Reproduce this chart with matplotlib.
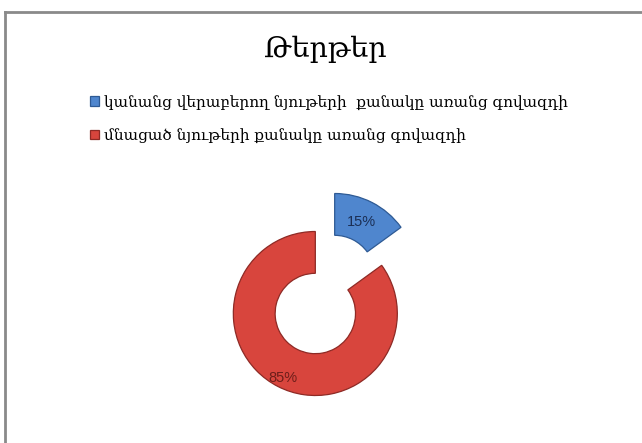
import matplotlib
matplotlib.use("Agg")
import matplotlib.pyplot as plt
from matplotlib.lines import Line2D
import numpy as np

# Data
title = "Թերթեր"
categories = [
    "կանանց վերաբերող նյութերի  քանակը առանց գովազդի",
    "մնացած նյութերի քանակը առանց գովազդի",
]
shares = [15, 85]

# Style
colors = ["#4F86CE", "#D8453D"]
edge_colors = ["#2E5A94", "#8E2A25"]
pct_colors = ["#1B2F55", "#6E1E1A"]
pct_dist = [0.73, 0.88]
serif = ["DejaVu Serif", "DejaVu Sans"]

W, H = 642, 443
fig = plt.figure(figsize=(W / 100, H / 100), dpi=100)
fig.patch.set_facecolor("white")

# Frame along top and left edges
fig.add_artist(Line2D([5 / W, 5 / W], [0, 1 - 12 / H], transform=fig.transFigure,
                      color="#8A8A8A", lw=2.0))
fig.add_artist(Line2D([5 / W, 1], [1 - 12 / H, 1 - 12 / H], transform=fig.transFigure,
                      color="#8A8A8A", lw=2.0))

# Donut axes: square, radius 1 == 82 px
R = 82.0
cx, cy = 325.0, 294.5
half = 1.5 * R
ax = fig.add_axes([(cx - half) / W, 1 - (cy + half) / H, 2 * half / W, 2 * half / H])

wedges, _ = ax.pie(
    shares,
    colors=colors,
    startangle=90,
    counterclock=False,
    explode=[0.26, 0.26],
    radius=1.0,
    wedgeprops=dict(width=0.51, linewidth=0.9),
)
for w, ec in zip(wedges, edge_colors):
    w.set_edgecolor(ec)

# Percentage labels placed along each wedge's mid-angle
for w, v, d, c in zip(wedges, shares, pct_dist, pct_colors):
    mid = np.deg2rad((w.theta1 + w.theta2) / 2)
    x0, y0 = w.center
    ax.text(x0 + d * np.cos(mid), y0 + d * np.sin(mid), f"{v}%",
            ha="center", va="center", fontsize=10.5, color=c,
            family=["Liberation Sans", "DejaVu Sans"])

ax.set_xlim(-1.5, 1.5)
ax.set_ylim(-1.5, 1.5)
ax.set_aspect("equal")
ax.axis("off")

# Title
fig.text(325 / W, 1 - 49 / H, title, ha="center", va="center",
         fontsize=20.5, family=serif, color="black")

# Legend
leg = fig.legend(
    wedges, categories,
    loc="upper left",
    bbox_to_anchor=(76 / W, 1 - 81 / H),
    frameon=False,
    handlelength=0.6, handleheight=0.6, handletextpad=0.3,
    labelspacing=1.2,
    prop=dict(family=serif, size=11),
)

fig.savefig("out.png", dpi=100, facecolor="white")
